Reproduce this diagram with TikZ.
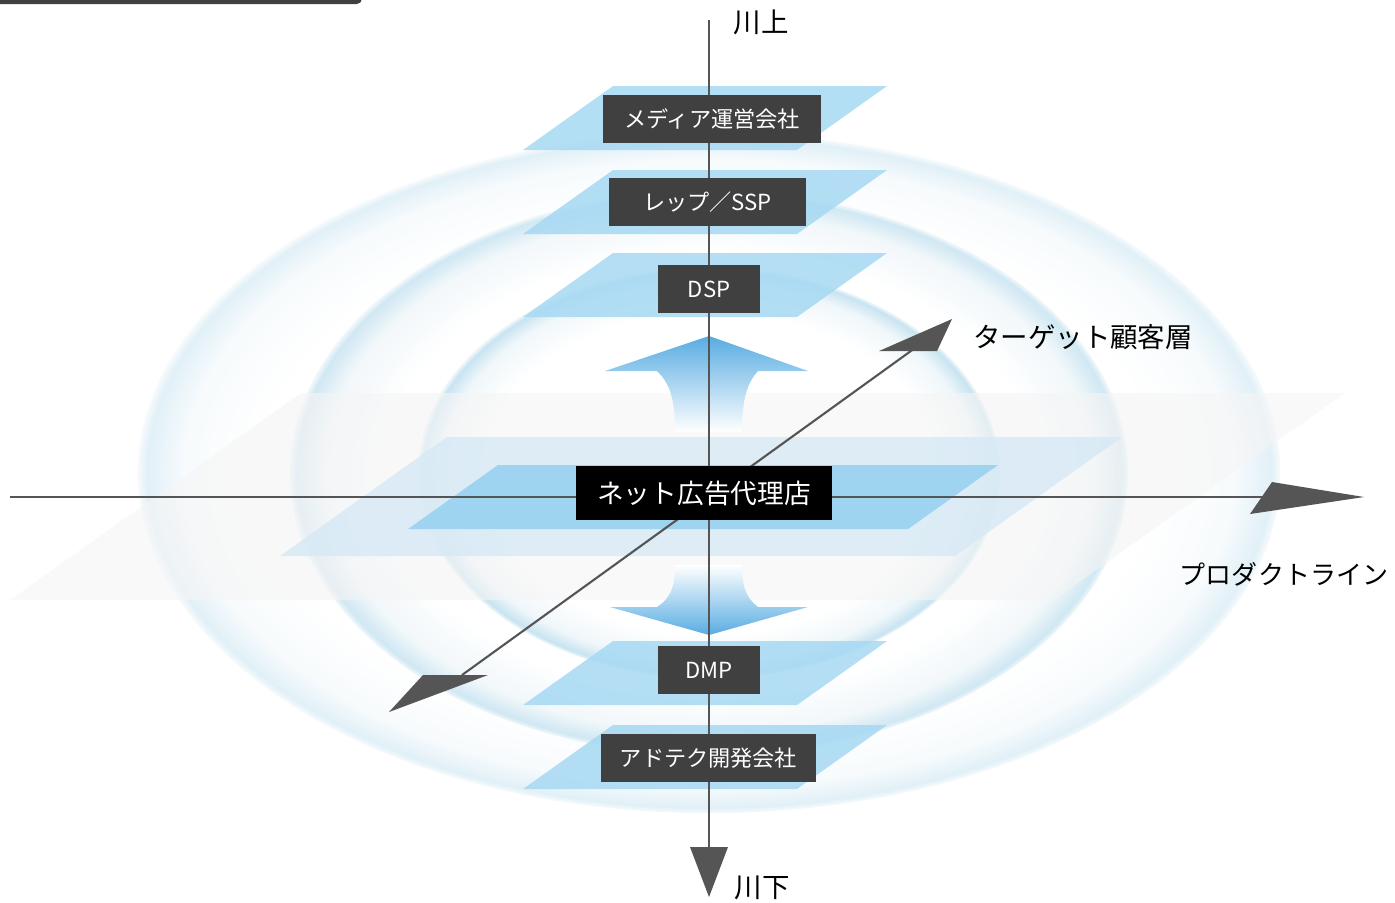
\documentclass[tikz,border=0pt]{standalone}
\usepackage{fontspec}
\setmainfont{Noto Sans CJK JP}
\usepackage{tikz}
\usetikzlibrary{arrows.meta, positioning, calc}
\usepackage{xcolor}
\definecolor{BoxGray}{RGB}{64,64,64}
\definecolor{AxisGray}{RGB}{85,85,85}
\definecolor{PlaneBlue}{RGB}{166,217,243}
\definecolor{CoreBlue}{RGB}{152,210,240}
\definecolor{HaloBlue}{RGB}{214,233,245}
\definecolor{FloorGray}{RGB}{245,245,245}
\definecolor{RimBlue}{RGB}{200,228,241}
\definecolor{RimSoft}{RGB}{240,247,250}
\definecolor{FlowBlue}{RGB}{88,172,226}
\pgfdeclareradialshading{bubble}{\pgfpoint{0bp}{0bp}}{color(0bp)=(white); color(19.5bp)=(white); color(23bp)=(RimSoft); color(24.6bp)=(RimBlue); color(25bp)=(RimSoft); color(50bp)=(RimSoft)}

\begin{document}
\begin{tikzpicture}[
  x=0.01cm, y=-0.01cm,
  box/.style={fill=BoxGray, text=white, inner sep=0pt, minimum height=0.48cm, font=\fontsize{6.3}{7}\selectfont},
  axis/.style={draw=AxisGray, line width=0.6pt},
  head/.style={fill=AxisGray},
  plane/.style={fill=PlaneBlue, opacity=0.85},
  lbl/.style={inner sep=0pt, font=\fontsize{7.8}{9}\selectfont}
]
  \useasboundingbox (0,0) rectangle (1395,902);

  % title bar (cut off)
  \fill[BoxGray, rounded corners=1.5pt] (-10,-20) rectangle (362,4);

  % bubbles
  \shade[shading=bubble, opacity=0.55] (709,473) ellipse [x radius=5.71cm, y radius=3.40cm];
  \shade[shading=bubble, opacity=0.85] (709,473) ellipse [x radius=4.19cm, y radius=2.82cm];
  \shade[shading=bubble] (709,473) ellipse [x radius=2.91cm, y radius=2.05cm];

  % floor planes
  \fill[FloorGray, opacity=0.6] (10,600) -- (301,393) -- (1345,393) -- (1054,600) -- cycle;
  \fill[HaloBlue, opacity=0.8] (280,556) -- (447,437) -- (1122,437) -- (955,556) -- cycle;
  \fill[CoreBlue, opacity=0.9] (408,529) -- (498,465) -- (998,465) -- (908,529) -- cycle;

  % layer planes
  \foreach \t in {86,170,253,641,725}
    \fill[plane] (523,\t+64) -- (613,\t) -- (887,\t) -- (797,\t+64) -- cycle;

  % flow arrows
  \shade[top color=FlowBlue, middle color=FlowBlue!55, bottom color=white]
    (709,336) -- (808,371) -- (758,371) .. controls (745,385) and (742,405) .. (742,432)
    -- (675,432) .. controls (675,405) and (672,385) .. (657,371) -- (605,371) -- cycle;
  \shade[top color=white, middle color=FlowBlue!55, bottom color=FlowBlue]
    (709,635) -- (808,607) -- (758,607) .. controls (745,597) and (742,585) .. (742,565)
    -- (675,565) .. controls (675,585) and (672,597) .. (657,607) -- (610,607) -- cycle;

  % axes
  \coordinate (up) at (709,20);
  \coordinate (down) at (709,850);
  \coordinate (west) at (10,497);
  \coordinate (east) at (1300,497);
  \coordinate (sw) at (462,675);
  \coordinate (ne) at (915,348);
  \draw[axis] (up) -- (down);
  \draw[axis] (west) -- (east);
  \draw[axis] (sw) -- (ne);
  \fill[head] (690,847) -- (728,847) -- (709,897) -- cycle;
  \fill[head] (1272,482) -- (1364,497) -- (1250,514) -- cycle;
  \fill[head] (879,351) -- (952,319) -- (937,351) -- cycle;
  \fill[head] (423,675) -- (488,675) -- (389,712) -- cycle;

  % layers
  \node[box, minimum width=2.17cm] (media) at (712,119) {メディア運営会社};
  \node[box, minimum width=1.97cm] (rep) at (707.5,202) {レップ／SSP};
  \node[box, minimum width=1.02cm] (dsp) at (709,289) {DSP};
  \node[box, fill=black, minimum width=2.56cm, minimum height=0.54cm, font=\fontsize{7.6}{9}\selectfont] (agency) at (704,493) {ネット広告代理店};
  \node[box, minimum width=1.02cm] (dmp) at (709,670) {DMP};
  \node[box, minimum width=2.15cm] (adtech) at (708.5,758) {アドテク開発会社};

  % axis labels
  \node[lbl] (upstream) at (761,22) {川上};
  \node[lbl] (downstream) at (762,888) {川下};
  \node[lbl] (target) at (1083,337) {ターゲット顧客層};
  \node[lbl, font=\fontsize{7.4}{9}\selectfont] (product) at (1284,574) {プロダクトライン};
\end{tikzpicture}
\end{document}
